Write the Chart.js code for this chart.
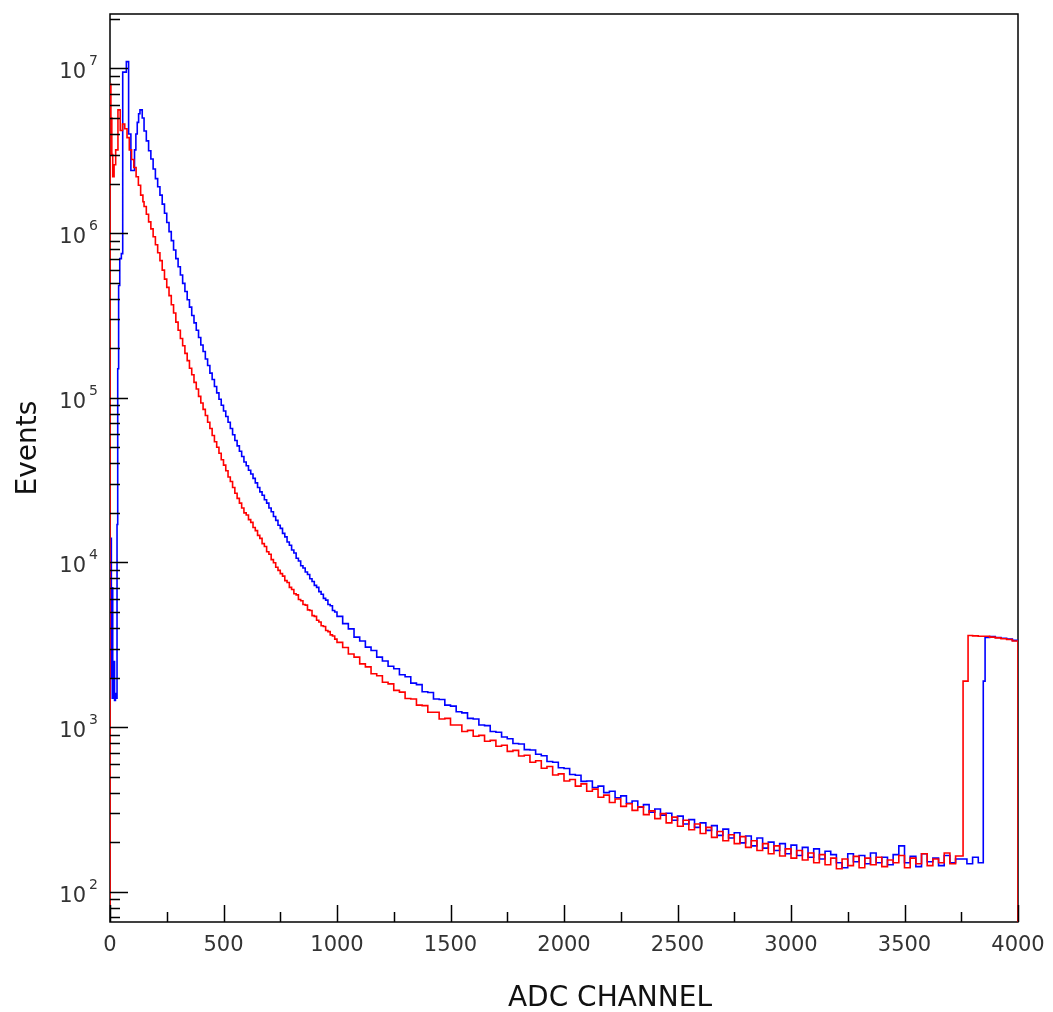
<!DOCTYPE html>
<html>
<head>
<meta charset="utf-8">
<script src="https://cdn.jsdelivr.net/npm/chart.js@4.4.1/dist/chart.umd.min.js"></script>
<style>
  html, body { margin: 0; padding: 0; background: #fff; }
  canvas { display: block; }
</style>
</head>
<body>
<canvas id="spectrum" width="1053" height="1012"></canvas>
<script>
// Axis setup
const xTicks = [0, 500, 1000, 1500, 2000, 2500, 3000, 3500, 4000];
const yDecades = [2, 3, 4, 5, 6, 7];
const xTitle = 'ADC CHANNEL';
const yTitle = 'Events';

// Low channels, read bin by bin
const blueHeadCh = [0, 3, 6, 9, 12, 16, 20, 24, 28, 31, 34, 38, 43, 50, 56, 72, 82, 92, 108, 114, 120, 126, 132, 142];
const blueHead = [1500, 14000, 2000, 7000, 1500, 2500, 1450, 1600, 1500, 17000, 150000, 480000, 700000, 750000,
  9500000, 11000000, 4000000, 2400000, 3200000, 4000000, 4700000, 5300000, 5600000, 5000000];

const redHeadCh = [0, 0, 4, 8, 12, 18, 25, 35, 45, 55, 65, 75, 85, 95, 105, 115, 125, 135, 145];
const redHead = [1, 8.0e6, 5.0e6, 3.0e6, 2.2e6, 2.6e6, 3.2e6, 5.6e6, 4.2e6, 4.6e6, 4.3e6, 3.8e6, 3.2e6,
  2.8e6, 2.5e6, 2.2e6, 1.95e6, 1.7e6, 1.55e6];

// Steep fall, 10 channel bins
const fineCh = [
  150, 160, 170, 180, 190, 200, 210, 220, 230, 240,
  250, 260, 270, 280, 290, 300, 310, 320, 330, 340,
  350, 360, 370, 380, 390, 400, 410, 420, 430, 440,
  450, 460, 470, 480, 490, 500, 510, 520, 530, 540,
  550, 560, 570, 580, 590, 600, 610, 620, 630, 640,
  650, 660, 670, 680, 690, 700, 710, 720, 730, 740,
  750, 760, 770, 780, 790, 800, 810, 820, 830, 840,
  850, 860, 870, 880, 890, 900, 910, 920, 930, 940,
  950, 960, 970, 980, 990
];
const blueFine = [
  4.17e6, 3.63e6, 3.16e6, 2.82e6, 2.45e6, 2.14e6, 1.91e6, 1.70e6, 1.50e6, 1.32e6,
  1.16e6, 1.02e6, 9.0e5, 7.9e5, 7.0e5, 6.24e5, 5.56e5, 4.95e5, 4.42e5, 3.94e5,
  3.55e5, 3.16e5, 2.85e5, 2.57e5, 2.32e5, 2.09e5, 1.91e5, 1.72e5, 1.57e5, 1.41e5,
  1.29e5, 1.17e5, 1.07e5, 9.8e4, 9.0e4, 8.3e4, 7.7e4, 7.1e4, 6.5e4, 5.96e4,
  5.5e4, 5.1e4, 4.73e4, 4.4e4, 4.07e4, 3.86e4, 3.63e4, 3.44e4, 3.24e4, 3.04e4,
  2.85e4, 2.68e4, 2.56e4, 2.40e4, 2.29e4, 2.14e4, 2.03e4, 1.90e4, 1.80e4, 1.68e4,
  1.61e4, 1.50e4, 1.43e4, 1.33e4, 1.27e4, 1.19e4, 1.14e4, 1.06e4, 1.02e4, 9550,
  9250, 8750, 8450, 7950, 7650, 7250, 7050, 6650, 6400, 6050,
  5900, 5550, 5450, 5100, 5000
];
const redFine = [
  1.45e6, 1.30e6, 1.17e6, 1.06e6, 9.5e5, 8.5e5, 7.6e5, 6.8e5, 5.96e5, 5.25e5,
  4.68e5, 4.17e5, 3.67e5, 3.27e5, 2.88e5, 2.57e5, 2.29e5, 2.07e5, 1.86e5, 1.68e5,
  1.51e5, 1.38e5, 1.24e5, 1.13e5, 1.02e5, 9.3e4, 8.5e4, 7.8e4, 7.1e4, 6.5e4,
  5.9e4, 5.4e4, 5.0e4, 4.6e4, 4.2e4, 3.9e4, 3.6e4, 3.3e4, 3.1e4, 2.85e4,
  2.63e4, 2.45e4, 2.29e4, 2.14e4, 2.0e4, 1.94e4, 1.82e4, 1.75e4, 1.63e4, 1.56e4,
  1.46e4, 1.40e4, 1.30e4, 1.25e4, 1.16e4, 1.12e4, 1.04e4, 9950, 9350, 8950,
  8550, 8250, 7750, 7550, 7050, 6850, 6450, 6350, 5950, 5850,
  5550, 5500, 5150, 5100, 4750, 4700, 4450, 4350, 4120, 4080,
  3860, 3800, 3630, 3570, 3420
];

// Long tail, 25 channel bins
const coarseCh = [
  1000, 1025, 1050, 1075, 1100, 1125, 1150, 1175, 1200, 1225,
  1250, 1275, 1300, 1325, 1350, 1375, 1400, 1425, 1450, 1475,
  1500, 1525, 1550, 1575, 1600, 1625, 1650, 1675, 1700, 1725,
  1750, 1775, 1800, 1825, 1850, 1875, 1900, 1925, 1950, 1975,
  2000, 2025, 2050, 2075, 2100, 2125, 2150, 2175, 2200, 2225,
  2250, 2275, 2300, 2325, 2350, 2375, 2400, 2425, 2450, 2475,
  2500, 2525, 2550, 2575, 2600, 2625, 2650, 2675, 2700, 2725,
  2750, 2775, 2800, 2825, 2850, 2875, 2900, 2925, 2950, 2975,
  3000, 3025, 3050, 3075, 3100, 3125, 3150, 3175, 3200, 3225,
  3250, 3275, 3300, 3325, 3350, 3375, 3400, 3425, 3450, 3475,
  3500, 3525, 3550, 3575, 3600, 3625, 3650, 3675, 3700, 3725
];
const blueCoarse = [
  4700, 4250, 3950, 3520, 3330, 3060, 2920, 2660, 2520, 2340,
  2260, 2080, 2020, 1850, 1810, 1640, 1620, 1480, 1470, 1360,
  1340, 1240, 1220, 1130, 1120, 1030, 1020, 940, 930, 870,
  850, 795, 790, 730, 725, 684, 670, 618, 612, 566,
  560, 515, 510, 468, 470, 430, 438, 400, 408, 372,
  382, 345, 356, 326, 338, 304, 318, 292, 300, 272,
  288, 258, 274, 246, 262, 236, 252, 220, 240, 212,
  228, 198, 218, 190, 212, 184, 200, 178, 196, 170,
  192, 166, 186, 162, 182, 158, 176, 168, 150, 140,
  170, 152, 166, 148, 172, 150, 162, 146, 168, 190,
  150, 164, 142, 170, 152, 160, 144, 166, 150, 158
];
const redCoarse = [
  3270, 3040, 2780, 2660, 2420, 2320, 2110, 2050, 1870, 1830,
  1670, 1630, 1490, 1480, 1360, 1350, 1230, 1230, 1120, 1130,
  1030, 1030, 940, 955, 880, 890, 820, 830, 765, 775,
  712, 722, 668, 674, 612, 624, 562, 576, 512, 520,
  470, 480, 438, 452, 408, 420, 375, 386, 348, 366,
  330, 342, 312, 328, 294, 310, 278, 298, 262, 284,
  250, 272, 238, 258, 226, 246, 214, 232, 204, 222,
  196, 216, 186, 204, 178, 196, 170, 190, 165, 182,
  160, 178, 156, 172, 150, 168, 146, 160, 138, 158,
  144, 164, 140, 160, 146, 162, 142, 156, 150, 166,
  140, 160, 148, 170, 144, 158, 150, 172, 148, 165
];

// Overflow step near the top channels
const blueEndCh = [3750, 3775, 3800, 3825, 3847, 3855, 3875, 3900, 3925, 3950, 3975, 4000];
const blueEnd = [158, 148, 162, 150, 1900, 3500, 3540, 3500, 3460, 3420, 3360, 3300];
const redEndCh = [3750, 3758, 3780, 3800, 3825, 3850, 3875, 3900, 3925, 3950, 3975, 4000, 4000];
const redEnd = [165, 1900, 3600, 3580, 3560, 3560, 3520, 3480, 3440, 3400, 3330, 3300, 1];

function toPoints(chs, vals) {
  const out = [];
  chs.forEach((c, i) => out.push({ x: c, y: vals[i] }));
  return out;
}

const bluePts = [].concat(
  toPoints(blueHeadCh, blueHead),
  toPoints(fineCh, blueFine),
  toPoints(coarseCh, blueCoarse),
  toPoints(blueEndCh, blueEnd)
);
const redPts = [].concat(
  toPoints(redHeadCh, redHead),
  toPoints(fineCh, redFine),
  toPoints(coarseCh, redCoarse),
  toPoints(redEndCh, redEnd)
);

const FONT = '"DejaVu Sans", "Liberation Sans", sans-serif';

// frame, inward ticks and ROOT style labels
const rootAxes = {
  id: 'rootAxes',
  beforeDatasetsDraw(chart) {
    const { ctx, chartArea: a } = chart;
    ctx.save();
    ctx.strokeStyle = '#000';
    ctx.lineWidth = 1.5;
    ctx.strokeRect(a.left, a.top, a.right - a.left, a.bottom - a.top);
    ctx.restore();
  },
  afterDatasetsDraw(chart) {
    const { ctx, chartArea: a, scales } = chart;
    const xs = scales.x, ys = scales.y;
    ctx.save();
    ctx.strokeStyle = '#000';
    ctx.lineWidth = 1.5;
    ctx.beginPath();

    // y ticks, decades long, 2..9 short
    const decs = [yDecades[0] - 1].concat(yDecades);
    decs.forEach(d => {
      for (let m = 1; m <= 9; m++) {
        const v = m * Math.pow(10, d);
        if (v < ys.min || v > ys.max) continue;
        const y = Math.round(ys.getPixelForValue(v)) + 0.5;
        const len = m === 1 ? 18 : 10;
        ctx.moveTo(a.left, y);
        ctx.lineTo(a.left + len, y);
      }
    });

    // x ticks, with a short one halfway
    xTicks.forEach((t, i) => {
      const x = Math.round(xs.getPixelForValue(t)) + 0.5;
      ctx.moveTo(x, a.bottom);
      ctx.lineTo(x, a.bottom - 17);
      if (i < xTicks.length - 1) {
        const xm = Math.round(xs.getPixelForValue((t + xTicks[i + 1]) / 2)) + 0.5;
        ctx.moveTo(xm, a.bottom);
        ctx.lineTo(xm, a.bottom - 10);
      }
    });
    ctx.stroke();

    // tick labels
    ctx.fillStyle = '#333';
    ctx.font = '21px ' + FONT;
    ctx.textAlign = 'center';
    ctx.textBaseline = 'alphabetic';
    xTicks.forEach(t => {
      ctx.fillText(String(t), xs.getPixelForValue(t), a.bottom + 29);
    });

    yDecades.forEach(d => {
      const y = ys.getPixelForValue(Math.pow(10, d));
      ctx.font = '21px ' + FONT;
      ctx.textAlign = 'right';
      ctx.fillText('10', 86, y + 10);
      ctx.font = '14px ' + FONT;
      ctx.textAlign = 'left';
      ctx.fillText(String(d), 89, y - 3);
    });

    // axis titles
    ctx.fillStyle = '#111';
    ctx.font = '28px ' + FONT;
    ctx.textAlign = 'center';
    ctx.fillText(xTitle, 610, 1006);

    ctx.translate(36, 448);
    ctx.rotate(-Math.PI / 2);
    ctx.fillText(yTitle, 0, 0);
    ctx.restore();
  }
};

new Chart(document.getElementById('spectrum'), {
  type: 'line',
  data: {
    datasets: [
      { label: 'red', data: redPts, borderColor: '#ff0000', stepped: 'before', fill: false },
      { label: 'blue', data: bluePts, borderColor: '#0000ff', stepped: 'before', fill: false }
    ]
  },
  options: {
    responsive: false,
    animation: false,
    devicePixelRatio: 1,
    layout: { padding: { left: 110, top: 14, right: 35, bottom: 90 } },
    plugins: { legend: { display: false }, tooltip: { enabled: false } },
    elements: { point: { radius: 0 }, line: { borderWidth: 1.6, tension: 0 } },
    scales: {
      x: { type: 'linear', min: 0, max: 4000, display: false },
      y: { type: 'logarithmic', min: 65.5, max: 2.14e7, display: false }
    }
  },
  plugins: [rootAxes]
});
</script>
</body>
</html>
